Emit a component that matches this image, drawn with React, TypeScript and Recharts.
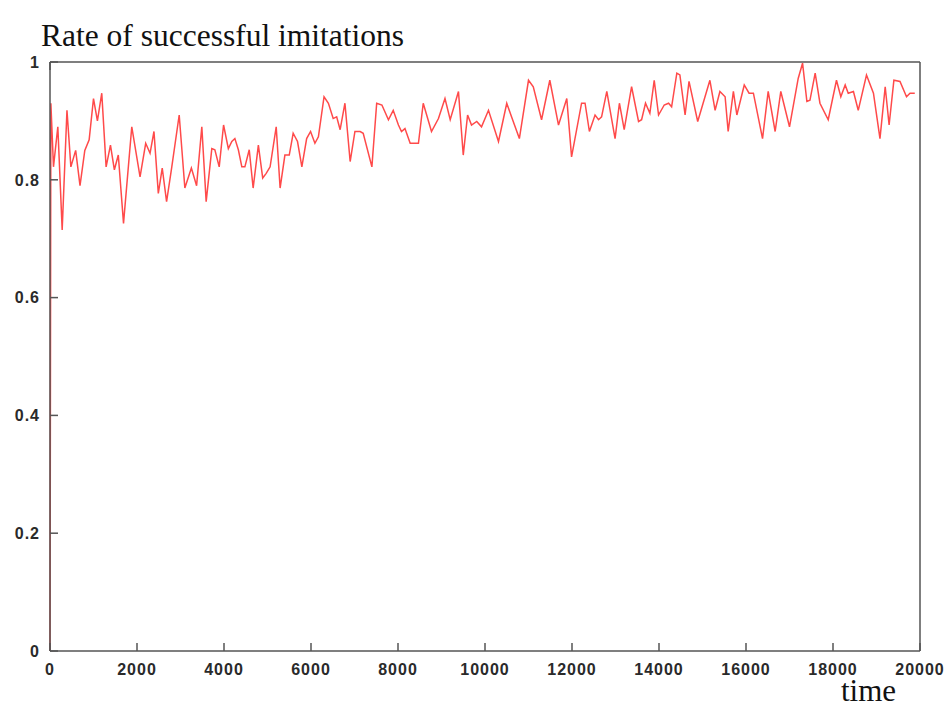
import React from 'react';
import { LineChart, Line, XAxis, YAxis } from 'recharts';

const TIMES = [
  0, 20, 80, 180, 280, 390, 480, 590, 690, 800, 900, 1000, 1090, 1190, 1290, 1390, 1480, 1570, 1690, 1880,
  2070, 2200, 2300, 2390, 2490, 2580, 2680, 2800, 2970, 3100, 3250, 3370, 3490, 3590, 3720, 3790, 3890, 3990,
  4100, 4180, 4250, 4330, 4410, 4480, 4580, 4670, 4790, 4890, 4970, 5060, 5200, 5290, 5400, 5500, 5590, 5690,
  5790, 5900, 5990, 6090, 6170, 6300, 6400, 6510, 6590, 6670, 6780, 6900, 7010, 7130, 7200, 7400, 7510, 7630,
  7780, 7890, 8010, 8080, 8160, 8280, 8470, 8580, 8770, 8930, 9080, 9200, 9390, 9500, 9600, 9690, 9810, 9920,
  10080, 10310, 10500, 10610, 10790, 11000, 11110, 11300, 11490, 11690, 11880, 11990, 12220, 12300, 12400,
  12530, 12610, 12680, 12800, 12990, 13090, 13200, 13370, 13530, 13600, 13690, 13790, 13890, 13990, 14120,
  14220, 14290, 14410, 14480, 14600, 14690, 14890, 15170, 15290, 15400, 15520, 15590, 15710, 15790, 15960,
  16070, 16170, 16380, 16510, 16670, 16800, 17000, 17200, 17300, 17400, 17470, 17590, 17700, 17890, 18080,
  18180, 18280, 18350, 18470, 18580, 18770, 18930, 19080, 19200, 19290, 19400, 19540, 19690, 19770, 19880,
];

const RATES = [
  0, 0.93, 0.822, 0.89, 0.715, 0.918, 0.822, 0.85, 0.79, 0.85, 0.868, 0.938, 0.9, 0.947, 0.822, 0.859, 0.817, 0.842, 0.726, 0.89,
  0.805, 0.862, 0.845, 0.882, 0.777, 0.82, 0.763, 0.822, 0.91, 0.786, 0.82, 0.79, 0.89, 0.763, 0.853, 0.851, 0.822, 0.893,
  0.853, 0.865, 0.87, 0.851, 0.822, 0.822, 0.851, 0.786, 0.859, 0.803, 0.811, 0.822, 0.89, 0.786, 0.842, 0.842, 0.879, 0.865,
  0.822, 0.87, 0.882, 0.862, 0.873, 0.941, 0.93, 0.904, 0.907, 0.885, 0.93, 0.831, 0.882, 0.882, 0.879, 0.822, 0.93, 0.927,
  0.902, 0.918, 0.893, 0.882, 0.887, 0.862, 0.862, 0.93, 0.882, 0.904, 0.938, 0.902, 0.95, 0.842, 0.91, 0.893, 0.899, 0.89,
  0.918, 0.865, 0.93, 0.907, 0.87, 0.969, 0.958, 0.902, 0.969, 0.893, 0.938, 0.839, 0.93, 0.93, 0.882,
  0.91, 0.902, 0.907, 0.95, 0.87, 0.93, 0.885, 0.958, 0.899, 0.902, 0.93, 0.913, 0.969, 0.91, 0.927,
  0.93, 0.924, 0.981, 0.978, 0.91, 0.967, 0.899, 0.969, 0.918, 0.95, 0.941, 0.882, 0.95, 0.91, 0.961,
  0.947, 0.947, 0.87, 0.95, 0.882, 0.95, 0.89, 0.972, 0.998, 0.933, 0.935, 0.981, 0.93, 0.902, 0.969,
  0.941, 0.961, 0.947, 0.95, 0.918, 0.978, 0.947, 0.87, 0.958, 0.893, 0.969, 0.967, 0.941, 0.947, 0.947,
];

const X_TICKS = [0, 2000, 4000, 6000, 8000, 10000, 12000, 14000, 16000, 18000, 20000];
const Y_TICKS = [0, 0.2, 0.4, 0.6, 0.8, 1];
const TITLE = 'Rate of successful imitations';
const X_LABEL = 'time';

const data = TIMES.map((t, i) => ({ t, v: RATES[i] }));

const TICK_LEN = 8;
const X_MARGIN = 24;
const Y_MARGIN = 10;
const BORDER = '#555';
const LABEL_STYLE = {
  fontFamily: '"Liberation Sans", Arial, sans-serif',
  fontSize: 16,
  fontWeight: 700,
  fill: '#2a2a2a',
  letterSpacing: 1,
};

const BottomTick = (props: any) => {
  const { x, y, payload } = props;
  const axisY = y - X_MARGIN;
  return (
    <g>
      <line x1={x} x2={x} y1={axisY} y2={axisY - TICK_LEN} stroke={BORDER} strokeWidth={1.5} />
      <text x={x} y={y} textAnchor="middle" style={LABEL_STYLE}>{String(payload.value)}</text>
    </g>
  );
};

const LeftTick = (props: any) => {
  const { x, y, payload } = props;
  const axisX = x + Y_MARGIN;
  return (
    <g>
      <line x1={axisX} x2={axisX + TICK_LEN} y1={y} y2={y} stroke={BORDER} strokeWidth={1.5} />
      <text x={x} y={y} dy="0.36em" textAnchor="end" style={LABEL_STYLE}>{String(payload.value)}</text>
    </g>
  );
};

const TopTick = (props: any) => {
  const { x, y } = props;
  return <line x1={x} x2={x} y1={y} y2={y + TICK_LEN} stroke={BORDER} strokeWidth={1.5} />;
};

const RightTick = (props: any) => {
  const { x, y } = props;
  return <line x1={x} x2={x - TICK_LEN} y1={y} y2={y} stroke={BORDER} strokeWidth={1.5} />;
};

export default function App() {
  return (
    <div style={{ position: 'absolute', left: 0, top: 0, width: 950, height: 707, background: '#fff' }}>
      <LineChart width={950} height={707} data={data} margin={{ top: 61, right: 29, bottom: 26, left: 5 }}>
        <XAxis
          dataKey="t"
          type="number"
          domain={[0, 20000]}
          ticks={X_TICKS}
          interval={0}
          height={30}
          tickSize={0}
          tickMargin={X_MARGIN}
          tick={<BottomTick />}
          axisLine={{ stroke: BORDER, strokeWidth: 1.5 }}
          tickLine={false}
        />
        <XAxis
          xAxisId="top"
          orientation="top"
          type="number"
          domain={[0, 20000]}
          ticks={X_TICKS}
          interval={0}
          height={1}
          tickSize={0}
          tickMargin={0}
          tick={<TopTick />}
          axisLine={{ stroke: BORDER, strokeWidth: 1.5 }}
          tickLine={false}
        />
        <YAxis
          type="number"
          domain={[0, 1]}
          ticks={Y_TICKS}
          interval={0}
          width={45}
          tickSize={0}
          tickMargin={Y_MARGIN}
          tick={<LeftTick />}
          axisLine={{ stroke: BORDER, strokeWidth: 1.5 }}
          tickLine={false}
        />
        <YAxis
          yAxisId="right"
          orientation="right"
          type="number"
          domain={[0, 1]}
          ticks={Y_TICKS}
          interval={0}
          width={1}
          tickSize={0}
          tickMargin={0}
          tick={<RightTick />}
          axisLine={{ stroke: BORDER, strokeWidth: 1.5 }}
          tickLine={false}
        />
        <Line
          type="linear"
          dataKey="v"
          stroke="#ff4a4a"
          strokeWidth={1.5}
          dot={false}
          isAnimationActive={false}
        />
      </LineChart>
      <svg width={950} height={707} style={{ position: 'absolute', left: 0, top: 0, pointerEvents: 'none' }}>
        <text x={41} y={46} style={{ fontFamily: '"Liberation Serif", "Times New Roman", serif', fontSize: 31.5, fill: '#111' }}>
          {TITLE}
        </text>
        <text x={841} y={701} style={{ fontFamily: '"Liberation Serif", "Times New Roman", serif', fontSize: 31, fill: '#111' }}>
          {X_LABEL}
        </text>
      </svg>
    </div>
  );
}
